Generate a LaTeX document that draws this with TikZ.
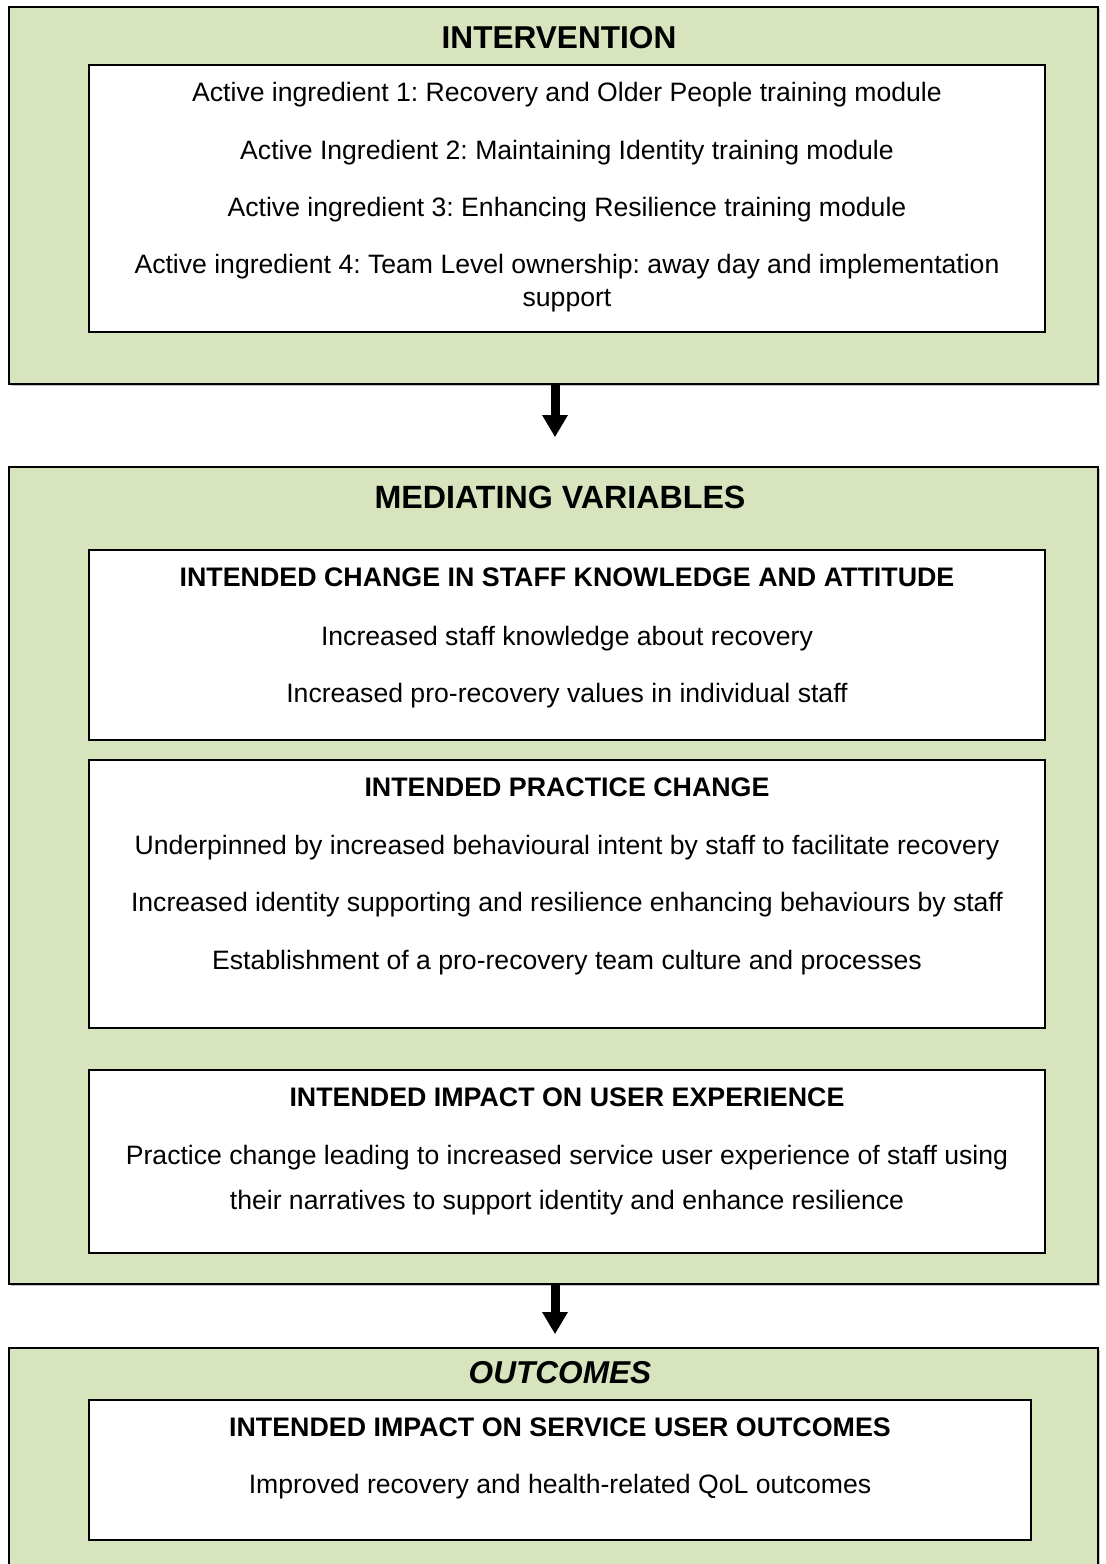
\documentclass[tikz,border=0pt]{standalone}
\usepackage{fontspec}
\setmainfont{Liberation Sans}
\usetikzlibrary{arrows.meta,fit,shadows}
\definecolor{panelgreen}{RGB}{215,228,189}
\frenchspacing
\tikzset{
  panel/.style={draw=black,line width=0.8pt,fill=panelgreen,inner sep=0pt,
    drop shadow={shadow xshift=0.8pt,shadow yshift=-0.8pt,opacity=0.45}},
  itembox/.style={draw=black,line width=0.6pt,fill=white,inner sep=0pt,
    drop shadow={shadow xshift=0.6pt,shadow yshift=-0.6pt,opacity=0.35}},
  bighead/.style={anchor=base,font=\bfseries\fontsize{15.8}{19}\selectfont},
  subhead/.style={anchor=base,font=\bfseries\fontsize{13.4}{16}\selectfont},
  bodyline/.style={anchor=base,font=\fontsize{13.3}{16}\selectfont},
  flow/.style={-{Triangle[width=12pt,length=11pt]},line width=4.5pt}
}
\begin{document}
\begin{tikzpicture}[x=0.5pt,y=-0.5pt]
\clip (0,0) rectangle (1106,1564);
\fill[white] (0,0) rectangle (1106,1564);
\node[panel,fit={(9,7) (1098,384)}] (interv) {};
\node[itembox,fit={(89,65) (1045,332)}] (ingr) {};
\node[bighead] (intervtitle) at (559,48) {INTERVENTION};
\node[bodyline] (ai1) at (567,101) {Active ingredient 1: Recovery and Older People training module};
\node[bodyline] (ai2) at (567,159) {Active Ingredient 2: Maintaining Identity training module};
\node[bodyline] (ai3) at (567,216) {Active ingredient 3: Enhancing Resilience training module};
\node[bodyline] (ai4a) at (567,273) {Active ingredient 4: Team Level ownership: away day and implementation};
\node[bodyline] (ai4b) at (567,306) {support};

\node[panel,fit={(9,467) (1098,1284)}] (mediat) {};
\node[bighead,font=\bfseries\fontsize{16.1}{19}\selectfont] (mediattitle) at (560,508) {MEDIATING VARIABLES};
\node[itembox,fit={(89,550) (1045,740)}] (know) {};
\node[subhead] (knowtitle) at (567,586) {INTENDED CHANGE IN STAFF KNOWLEDGE AND ATTITUDE};
\node[bodyline] (know1) at (567,645) {Increased staff knowledge about recovery};
\node[bodyline] (know2) at (567,702) {Increased pro-recovery values in individual staff};
\node[itembox,fit={(89,760) (1045,1028)}] (pract) {};
\node[subhead] (practtitle) at (567,796) {INTENDED PRACTICE CHANGE};
\node[bodyline] (pract1) at (567,854) {Underpinned by increased behavioural intent by staff to facilitate recovery};
\node[bodyline] (pract2) at (567,911) {Increased identity supporting and resilience enhancing behaviours by staff};
\node[bodyline] (pract3) at (567,969) {Establishment of a pro-recovery team culture and processes};
\node[itembox,fit={(89,1070) (1045,1253)}] (exper) {};
\node[subhead] (expertitle) at (567,1106) {INTENDED IMPACT ON USER EXPERIENCE};
\node[bodyline] (exper1) at (567,1164) {Practice change leading to increased service user experience of staff using};
\node[bodyline] (exper2) at (567,1209) {their narratives to support identity and enhance resilience};

\node[panel,fit={(9,1348) (1098,1600)}] (outcome) {};
\node[bighead,font=\bfseries\itshape\fontsize{15.8}{19}\selectfont] (outcometitle) at (560,1383) {OUTCOMES};
\node[itembox,fit={(89,1400) (1031,1540)}] (userout) {};
\node[subhead] (userouttitle) at (560,1436) {INTENDED IMPACT ON SERVICE USER OUTCOMES};
\node[bodyline] (userout1) at (560,1493) {Improved recovery and health-related QoL outcomes};

\draw[flow,shorten >=14.5pt] (interv.south -| 555,0) -- (mediat.north -| 555,0);
\draw[flow,shorten >=6.5pt] (mediat.south -| 555,0) -- (outcome.north -| 555,0);
\end{tikzpicture}
\end{document}
